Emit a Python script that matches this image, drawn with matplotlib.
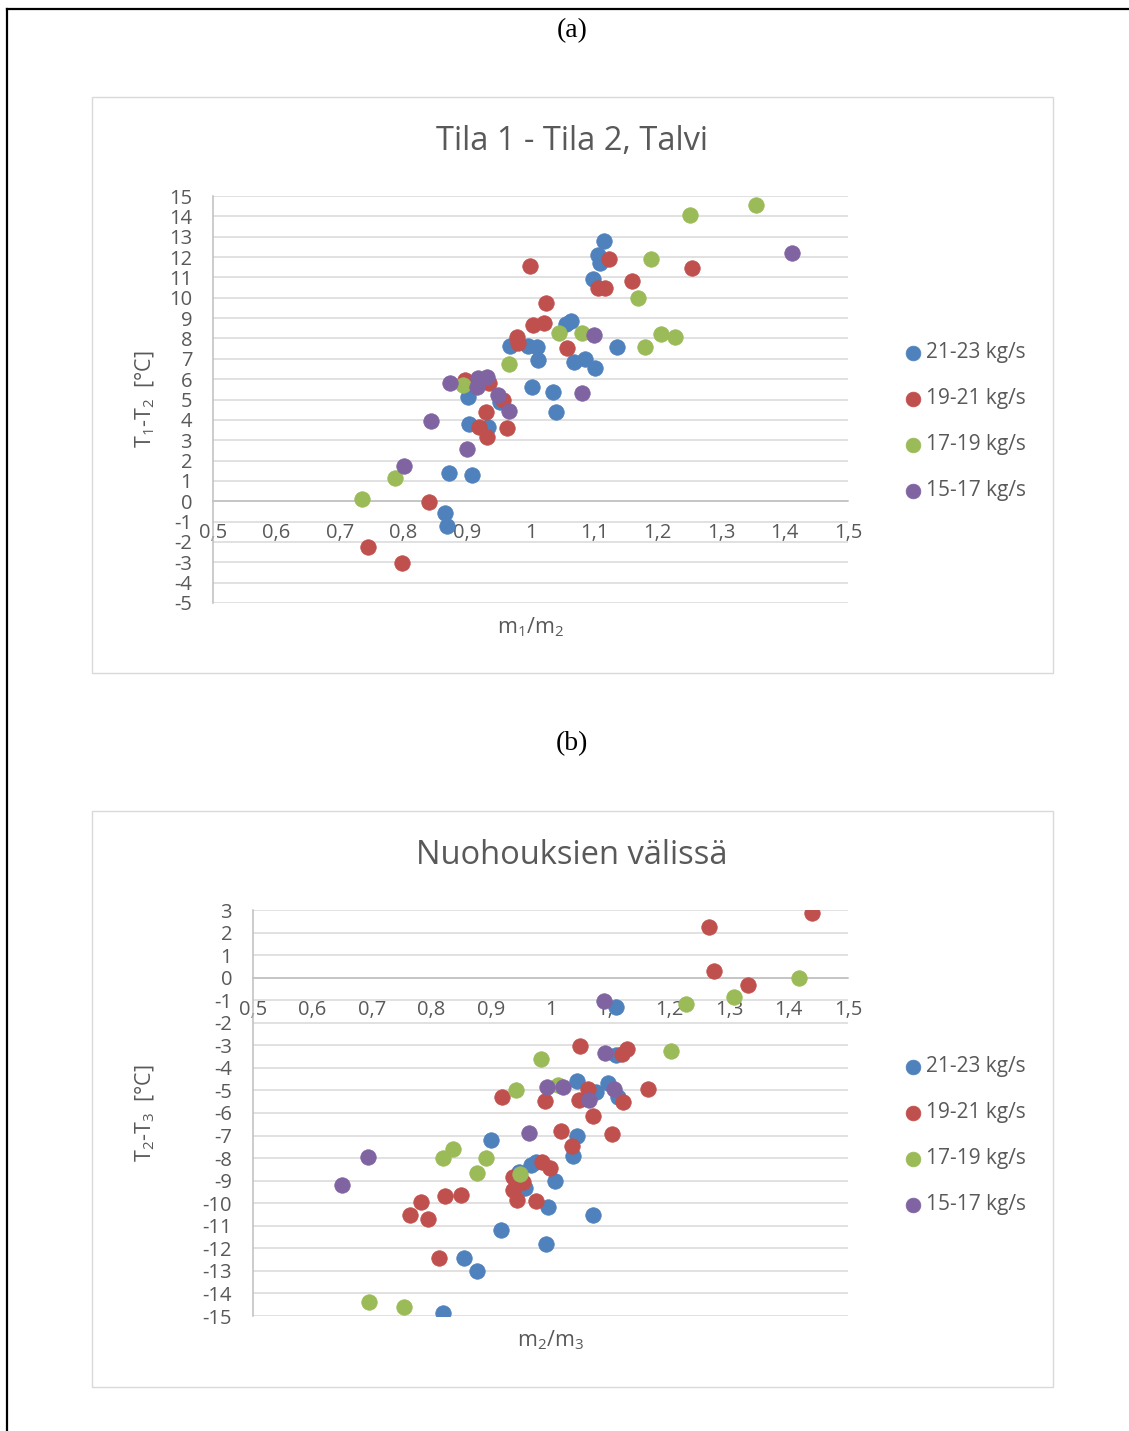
import numpy as np
import matplotlib.pyplot as plt
from matplotlib.lines import Line2D
from matplotlib.patches import Rectangle

plt.rcParams['font.family'] = ['Open Sans', 'DejaVu Sans']
plt.rcParams['axes.unicode_minus'] = False

series_labels = ['21-23 kg/s', '19-21 kg/s', '17-19 kg/s', '15-17 kg/s']
series_colors = ['#4F81BD', '#C0504D', '#9BBB59', '#8064A2']

# (a) Tila 1 - Tila 2, Talvi : m1/m2 vs T1-T2
a_blue_x = [1.116, 1.106, 1.109, 1.098, 1.056, 1.064, 0.968, 0.996, 1.010, 1.012, 1.069, 1.086, 1.102,
            1.136, 1.002, 1.035, 1.040, 0.902, 0.903, 0.933, 0.872, 0.908, 0.865, 0.869, 0.952]
a_blue_y = [12.78, 12.09, 11.70, 10.91, 8.70, 8.85, 7.62, 7.62, 7.57, 6.93, 6.83, 6.98, 6.54,
            7.57, 5.60, 5.36, 4.37, 5.11, 3.78, 3.64, 1.38, 1.28, -0.59, -1.23, 4.86]
a_red_x = [0.999, 1.024, 1.004, 1.021, 0.979, 0.980, 1.057, 1.124, 1.160, 1.254, 1.106, 1.117,
           0.897, 0.935, 0.957, 0.930, 0.919, 0.931, 0.963, 0.840, 0.744, 0.798]
a_red_y = [11.55, 9.73, 8.65, 8.75, 8.06, 7.76, 7.52, 11.89, 10.81, 11.45, 10.47, 10.47,
           5.95, 5.80, 4.96, 4.37, 3.64, 3.14, 3.59, -0.05, -2.26, -3.05]
a_green_x = [1.251, 1.355, 1.190, 1.169, 1.045, 1.081, 1.180, 1.206, 1.228, 0.966, 0.894, 0.787, 0.735]
a_green_y = [14.05, 14.55, 11.89, 9.98, 8.26, 8.26, 7.57, 8.21, 8.06, 6.73, 5.70, 1.13, 0.10]
a_purple_x = [1.412, 1.100, 1.081, 0.873, 0.917, 0.931, 0.916, 0.949, 0.966, 0.843, 0.900, 0.801]
a_purple_y = [12.19, 8.16, 5.31, 5.80, 6.04, 6.09, 5.60, 5.21, 4.42, 3.93, 2.56, 1.72]

# (b) Nuohouksien välissä : m2/m3 vs T2-T3
b_blue_x = [1.110, 1.110, 1.045, 1.076, 1.097, 1.113, 1.045, 0.900, 1.038, 0.967, 0.976, 1.008,
            0.947, 0.957, 0.996, 1.071, 0.917, 0.992, 0.855, 0.876, 0.819]
b_blue_y = [-1.30, -3.43, -4.58, -5.07, -4.67, -5.29, -7.02, -7.20, -7.91, -8.32, -8.19, -9.03,
            -8.61, -9.32, -10.17, -10.52, -11.19, -11.81, -12.43, -13.00, -14.86]
b_red_x = [1.440, 1.266, 1.275, 1.332, 1.050, 1.120, 1.129, 1.063, 1.048, 1.122, 1.164, 0.991,
           0.918, 1.071, 1.018, 1.103, 1.036, 0.986, 0.999, 0.937, 0.954, 0.937, 0.944, 0.976,
           0.782, 0.823, 0.850, 0.764, 0.794, 0.813]
b_red_y = [2.87, 2.25, 0.30, -0.32, -3.03, -3.38, -3.16, -4.94, -5.43, -5.51, -4.94, -5.47,
           -5.29, -6.13, -6.80, -6.93, -7.47, -8.19, -8.45, -8.84, -9.06, -9.41, -9.86, -9.90,
           -9.95, -9.68, -9.64, -10.54, -10.72, -12.43]
b_green_x = [1.418, 1.308, 1.228, 1.203, 0.984, 0.942, 1.013, 0.819, 0.836, 0.892, 0.876, 0.949,
             0.695, 0.754]
b_green_y = [0.00, -0.86, -1.17, -3.25, -3.60, -4.98, -4.76, -7.99, -7.60, -7.99, -8.66, -8.70,
             -14.38, -14.60]
b_purple_x = [1.090, 1.092, 0.994, 1.021, 1.065, 1.107, 0.964, 0.693, 0.650]
b_purple_y = [-1.03, -3.34, -4.85, -4.85, -5.43, -4.94, -6.89, -7.95, -9.19]

x_ticks = np.round(np.arange(0.5, 1.51, 0.1), 1)
x_ticklabels = ['0,5', '0,6', '0,7', '0,8', '0,9', '1', '1,1', '1,2', '1,3', '1,4', '1,5']

W, H = 1129, 1431
TXT = '#595959'
GRID = '#D9D9D9'
AXIS = '#BFBFBF'


def fx(px):
    return px / W


def fy(py):
    return 1 - py / H


def draw_chart(fig, box, plot, title, ylabel, xlabel, xs, ys, y_min, y_max, legend_top):
    # chart area frame
    bx0, by0, bx1, by1 = box
    fig.add_artist(Rectangle((fx(bx0), fy(by1)), fx(bx1 - bx0), (by1 - by0) / H,
                             transform=fig.transFigure, facecolor='white',
                             edgecolor=GRID, linewidth=1.0, zorder=0))
    px0, py0, px1, py1 = plot
    ax = fig.add_axes([fx(px0), fy(py1), fx(px1 - px0), (py1 - py0) / H])
    ax.set_facecolor('none')

    for x, y, c, lab in zip(xs, ys, series_colors, series_labels):
        ax.scatter(x, y, s=125, color=c, edgecolors=c, linewidths=0.5, label=lab, zorder=3)

    ax.set_xlim(0.5, 1.5)
    ax.set_ylim(y_min, y_max)
    ax.set_xticks(x_ticks)
    ax.set_xticklabels(x_ticklabels)
    ax.set_yticks(np.arange(y_min, y_max + 1))
    ax.yaxis.grid(True, color=GRID, linewidth=1.1)
    ax.set_axisbelow(True)

    for s in ['top', 'right']:
        ax.spines[s].set_visible(False)
    ax.spines['bottom'].set_position(('data', 0))
    ax.spines['bottom'].set_color(AXIS)
    ax.spines['bottom'].set_zorder(2)
    ax.spines['left'].set_color(AXIS)
    ax.spines['bottom'].set_linewidth(1.1)
    ax.spines['left'].set_linewidth(1.1)
    ax.tick_params(axis='x', length=0, pad=16, labelsize=14.5, labelcolor=TXT)
    ax.tick_params(axis='y', length=0, pad=15, labelsize=14.5, labelcolor=TXT)

    cx = (px0 + px1) / 2
    fig.text(fx(572), fy(by0 + 45), title, ha='center', va='center', fontsize=23.5, color=TXT)
    fig.text(fx(145), fy((py0 + py1) / 2), ylabel, ha='center', va='center', rotation=90,
             fontsize=15.5, color=TXT)
    fig.text(fx(cx), fy(py1 + 24), xlabel, ha='center', va='center', fontsize=15.5, color=TXT)

    leg = ax.legend(loc='upper left', bbox_to_anchor=(fx(889), fy(legend_top)),
                    bbox_transform=fig.transFigure, frameon=False, fontsize=15,
                    labelspacing=1.2, handletextpad=0.0, handlelength=1.3,
                    borderpad=0, markerscale=0.95)
    for t in leg.get_texts():
        t.set_color(TXT)
    return ax


fig = plt.figure(figsize=(W / 100, H / 100), dpi=100)

# page frame lines
fig.add_artist(Line2D([fx(7), fx(7)], [fy(9), 0], transform=fig.transFigure, color='black', linewidth=1.6))
fig.add_artist(Line2D([fx(7), 1], [fy(9), fy(9)], transform=fig.transFigure, color='black', linewidth=1.6))

fig.text(fx(572), fy(31), '(a)', ha='center', va='center', fontsize=20,
         family=['Liberation Serif', 'DejaVu Serif'])
fig.text(fx(572), fy(744), '(b)', ha='center', va='center', fontsize=20,
         family=['Liberation Serif', 'DejaVu Serif'])

draw_chart(fig, (92, 97, 1053, 673), (213, 196, 848, 603), 'Tila 1 - Tila 2, Talvi',
           r'T$_\mathregular{1}$-T$_\mathregular{2}$  [°C]', r'm$_\mathregular{1}$/m$_\mathregular{2}$',
           [a_blue_x, a_red_x, a_green_x, a_purple_x], [a_blue_y, a_red_y, a_green_y, a_purple_y],
           -5, 15, 332)

draw_chart(fig, (92, 811, 1053, 1387), (253, 910, 848, 1316), 'Nuohouksien välissä',
           r'T$_\mathregular{2}$-T$_\mathregular{3}$  [°C]', r'm$_\mathregular{2}$/m$_\mathregular{3}$',
           [b_blue_x, b_red_x, b_green_x, b_purple_x], [b_blue_y, b_red_y, b_green_y, b_purple_y],
           -15, 3, 1046)

fig.savefig('out.png', dpi=100)
